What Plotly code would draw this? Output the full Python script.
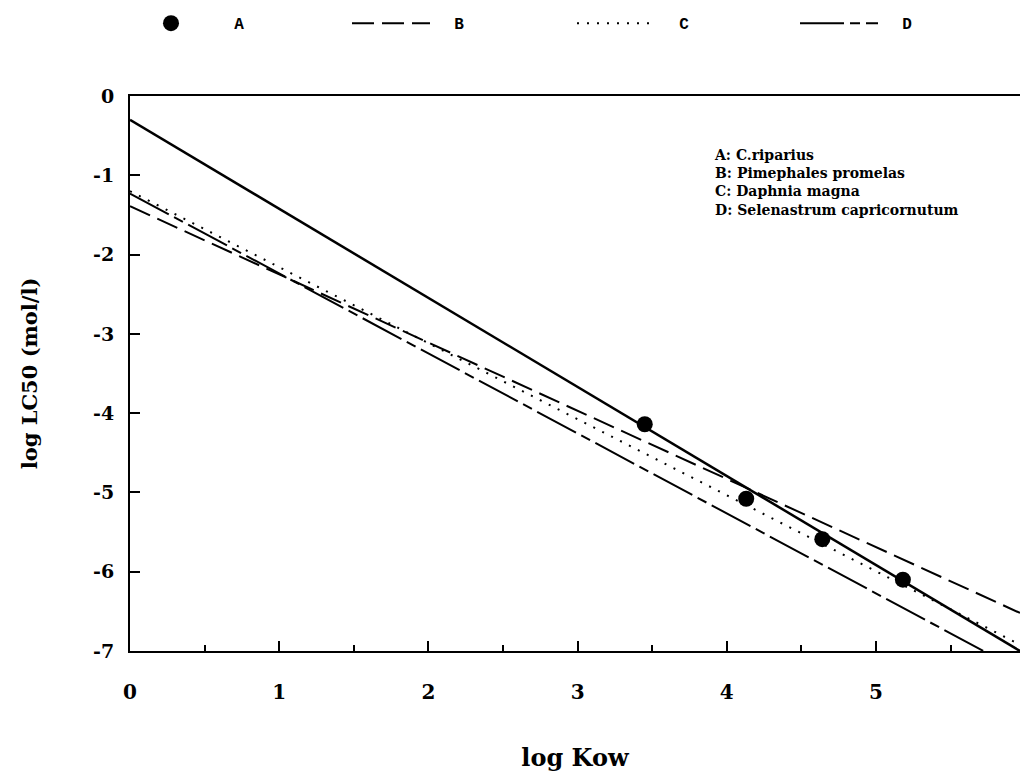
import plotly.graph_objects as go

# Measured toxicity points for C. riparius
a_logkow = [3.45, 4.13, 4.64, 5.18]
a_loglc50 = [-4.14, -5.08, -5.59, -6.10]

# Regression lines, given by their end points (log Kow, log LC50)
fit_a_x = [0.0, 5.965]
fit_a_y = [-0.30, -7.00]
fit_b_x = [0.0, 5.965]
fit_b_y = [-1.39, -6.52]
fit_c_x = [0.0, 5.965]
fit_c_y = [-1.20, -6.92]
fit_d_x = [0.0, 5.72]
fit_d_y = [-1.23, -7.00]

series_names = ["A", "B", "C", "D"]
species_notes = [
    "A: C.riparius",
    "B: Pimephales promelas",
    "C: Daphnia magna",
    "D: Selenastrum capricornutum",
]

x_ticks = [0, 1, 2, 3, 4, 5]
x_tick_text = ["0", "1", "2", "3", "4", "5"]
y_ticks = [0, -1, -2, -3, -4, -5, -6, -7]
y_tick_text = ["0", "-1", "-2", "-3", "-4", "-5", "-6", "-7"]

SERIF = "DejaVu Serif"
INK = "black"
PAD = "\u00a0\u00a0"  # gap between legend sample and its letter

MARGIN_L, PLOT_W = 130, 890
# left edges (px) of the four key entries along the top row
key_left_px = [127, 347, 572, 795]

fig = go.Figure()

fig.add_trace(go.Scatter(
    x=a_logkow, y=a_loglc50, mode="markers", name=PAD + series_names[0],
    legend="legend", marker=dict(symbol="circle", size=16, color=INK),
))
fig.add_trace(go.Scatter(
    x=fit_b_x, y=fit_b_y, mode="lines", name=PAD + series_names[1],
    legend="legend2", line=dict(color=INK, width=2, dash="22px,8px"),
))
fig.add_trace(go.Scatter(
    x=fit_c_x, y=fit_c_y, mode="lines", name=PAD + series_names[2],
    legend="legend3", line=dict(color=INK, width=2, dash="2px,8px"),
))
fig.add_trace(go.Scatter(
    x=fit_d_x, y=fit_d_y, mode="lines", name=PAD + series_names[3],
    legend="legend4", line=dict(color=INK, width=2, dash="44px,6px,10px,6px"),
))
# fitted line through the A points (no legend entry of its own)
fig.add_trace(go.Scatter(
    x=fit_a_x, y=fit_a_y, mode="lines", showlegend=False,
    line=dict(color=INK, width=2.5),
))

fig.add_annotation(
    x=3.9, y=-0.62, xref="x", yref="y", xanchor="left", yanchor="top",
    align="left", showarrow=False,
    text="<br>".join(species_notes),
    font=dict(family=SERIF, size=14, color=INK, weight="bold"),
)


def key_box(left_px):
    return dict(
        orientation="h", x=(left_px - MARGIN_L) / PLOT_W, y=1.131,
        xanchor="left", yanchor="middle", itemwidth=78,
        font=dict(family="Liberation Mono", size=16, color=INK, weight="bold"),
        bgcolor="rgba(0,0,0,0)",
    )


fig.update_layout(
    width=1020, height=782,
    margin=dict(l=MARGIN_L, r=0, t=96, b=131, autoexpand=False),
    paper_bgcolor="white", plot_bgcolor="white",
    showlegend=True,
    legend=key_box(key_left_px[0]),
    legend2=key_box(key_left_px[1]),
    legend3=key_box(key_left_px[2]),
    legend4=key_box(key_left_px[3]),
    xaxis=dict(
        range=[0, 5.965], showgrid=False, zeroline=False,
        showline=True, linecolor=INK, linewidth=2, mirror=True,
        ticks="inside", ticklen=10, tickwidth=1.5, tickcolor=INK,
        tickvals=x_ticks, ticktext=x_tick_text, ticklabelstandoff=22,
        tickfont=dict(family=SERIF, size=20, color=INK, weight="bold"),
        minor=dict(dtick=0.5, ticks="inside", ticklen=6, tickwidth=1.5,
                   tickcolor=INK, showgrid=False),
        title=dict(text="log Kow", standoff=46,
                   font=dict(family=SERIF, size=24, color=INK, weight="bold")),
    ),
    yaxis=dict(
        range=[-7, 0], showgrid=False, zeroline=False,
        showline=True, linecolor=INK, linewidth=2,
        ticks="inside", ticklen=10, tickwidth=1.5, tickcolor=INK,
        tickvals=y_ticks, ticktext=y_tick_text, ticklabelstandoff=10,
        tickfont=dict(family=SERIF, size=19, color=INK, weight="bold"),
        title=dict(text="log LC50 (mol/l)", standoff=50,
                   font=dict(family=SERIF, size=21, color=INK, weight="bold")),
    ),
)

fig.write_html("out.html")
